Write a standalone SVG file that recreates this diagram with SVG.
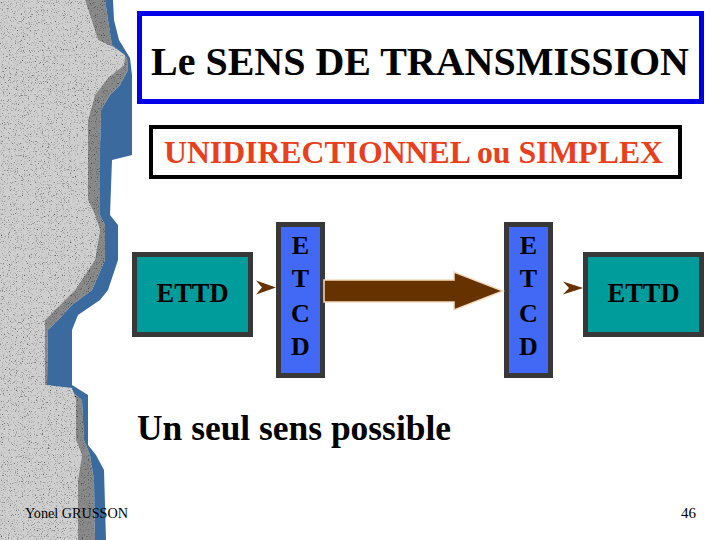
<svg xmlns="http://www.w3.org/2000/svg" width="720" height="540" viewBox="0 0 720 540">
  <defs>
    <filter id="granite" x="0" y="0" width="100%" height="100%" color-interpolation-filters="sRGB">
      <feTurbulence type="fractalNoise" baseFrequency="0.85" numOctaves="2" seed="7" result="n"/>
      <feColorMatrix in="n" type="matrix" values="0.33 0.33 0.33 0 0  0.33 0.33 0.33 0 0  0.33 0.33 0.33 0 0  0 0 0 0 1" result="g"/>
      <feComponentTransfer in="g" result="c">
        <feFuncR type="linear" slope="2.8" intercept="-0.3"/>
        <feFuncG type="linear" slope="2.8" intercept="-0.3"/>
        <feFuncB type="linear" slope="2.8" intercept="-0.3"/>
      </feComponentTransfer>
      <feBlend in="SourceGraphic" in2="c" mode="multiply" result="b"/>
      <feComposite in="b" in2="SourceGraphic" operator="in"/>
    </filter>
    <style>
      text { font-family: 'Liberation Serif', 'Times New Roman', serif; }
      .ettd { fill: #009b9b; stroke: #383838; stroke-width: 5; }
      .etcd { fill: #4169f5; stroke: #383838; stroke-width: 5; }
      .nodeText { fill: #000; text-anchor: middle; font-weight: bold; }
      .small-arrow { fill: #663300; }
      .big-arrow { fill: #663300; stroke: #f6dcc0; stroke-width: 1.5; stroke-linejoin: miter; }
    </style>
  </defs>

  <rect width="720" height="540" fill="#ffffff"/>

  <!-- granite side strip -->
  <g id="stone-strip">
    <polygon fill="#3a6a9e" points="0,0 113,0 114,20 119,40 130,58 132,75 132,155 112,160 110,215 118,225 118,260 108,290 100,300 78,315 72,330 72,385 88,395 88,445 96,455 104,470 106,540 0,540"/>
    <polygon fill="#8a8a8a" filter="url(#granite)" points="0,0 105,0 108,20 112,45 127,58 128,70 120,85 110,95 101,110 100,150 100,215 105,225 105,260 92,290 72,305 60,318 48,330 47,385 70,390 82,400 84,440 90,455 94,480 95,540 0,540"/>
    <polygon fill="#cfcfcf" filter="url(#granite)" points="0,0 85,0 90,15 98,40 115,48 125,55 124,65 108,78 95,95 88,120 88,200 95,215 100,230 95,260 75,290 55,310 45,320 45,385 72,388 76,400 76,440 82,455 78,480 78,540 0,540"/>
  </g>

  <g id="title">
    <rect x="139.5" y="13.5" width="562" height="88" fill="#ffffff" stroke="#0000e8" stroke-width="5"/>
    <text font-weight="bold" x="151" y="75" font-size="40" textLength="538" lengthAdjust="spacingAndGlyphs" fill="#000">Le SENS DE TRANSMISSION</text>
  </g>

  <g id="subtitle">
    <rect x="151" y="127" width="529" height="50" fill="#ffffff" stroke="#000" stroke-width="4"/>
    <text font-weight="bold" x="164" y="163" font-size="31.5" textLength="499" lengthAdjust="spacingAndGlyphs" fill="#e8401c">UNIDIRECTIONNEL ou SIMPLEX</text>
  </g>

  <g id="ettd-left">
    <rect class="ettd" x="134.5" y="254.5" width="116" height="80"/>
    <text class="nodeText" x="192.5" y="302" font-size="27" textLength="72" lengthAdjust="spacingAndGlyphs">ETTD</text>
  </g>

  <g id="etcd-left">
    <rect class="etcd" x="278.5" y="224.5" width="44" height="151"/>
    <text class="nodeText" x="300.5" y="254" font-size="26">E</text>
    <text class="nodeText" x="300.5" y="287" font-size="26">T</text>
    <text class="nodeText" x="300.5" y="322" font-size="26">C</text>
    <text class="nodeText" x="300.5" y="355" font-size="26">D</text>
  </g>

  <g id="etcd-right">
    <rect class="etcd" x="506.5" y="224.5" width="44" height="151"/>
    <text class="nodeText" x="528.5" y="254" font-size="26">E</text>
    <text class="nodeText" x="528.5" y="287" font-size="26">T</text>
    <text class="nodeText" x="528.5" y="322" font-size="26">C</text>
    <text class="nodeText" x="528.5" y="355" font-size="26">D</text>
  </g>

  <g id="ettd-right">
    <rect class="ettd" x="585.5" y="254.5" width="116" height="80"/>
    <text class="nodeText" x="643.5" y="302" font-size="27" textLength="72" lengthAdjust="spacingAndGlyphs">ETTD</text>
  </g>

  <g id="connectors">
    <path class="small-arrow" d="M256,280.5 L276,287.5 L256,294.5 L262,287.5 Z"/>
    <path class="big-arrow" d="M324,280 L454,280 L454,272 L503,291 L454,310 L454,302 L324,302 Z"/>
    <path class="small-arrow" d="M563,281.5 L583,288 L563,294.5 L569,288 Z"/>
  </g>

  <g id="caption">
    <text font-weight="bold" x="137" y="440" font-size="36" textLength="314" lengthAdjust="spacingAndGlyphs" fill="#000">Un seul sens possible</text>
  </g>

  <g id="footer">
    <text x="25" y="518" font-size="15" textLength="103" lengthAdjust="spacingAndGlyphs" fill="#000">Yonel GRUSSON</text>
    <text x="696" y="518" font-size="15" text-anchor="end" fill="#000">46</text>
  </g>
</svg>
